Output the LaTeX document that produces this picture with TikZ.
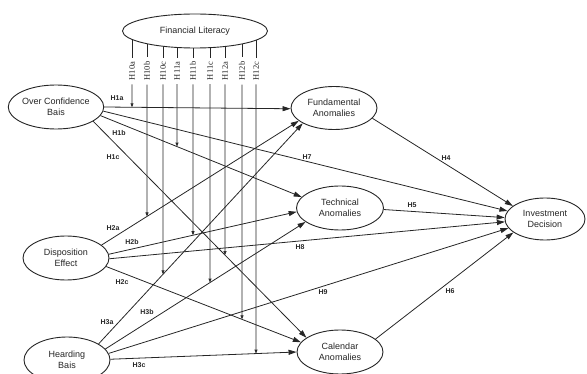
\documentclass[tikz,border=0pt]{standalone}
\usepackage{fontspec}
\setmainfont{Liberation Sans}
\newfontfamily\serifl{Liberation Serif}
\usetikzlibrary{shapes.geometric,arrows.meta,calc,backgrounds,intersections}
\definecolor{ink}{HTML}{262626}
\begin{document}
\begin{tikzpicture}[x=1pt,y=-1pt,
 ell/.style={draw=ink, ellipse, inner sep=0pt, align=center, text=ink,
   font=\fontsize{9}{10.5}\selectfont, line width=0.9pt, fill=white},
 arr/.style={draw=ink, -{Triangle[length=8pt,width=5pt]}, line width=0.8pt},
 modarr/.style={draw=ink, -{Triangle[length=4pt,width=3pt]}, line width=0.6pt},
 modline/.style={draw=ink, line width=0.6pt},
 hl/.style={font=\bfseries\fontsize{7}{7}\selectfont, inner sep=1pt, text=ink},
 vl/.style={rotate=90, font=\serifl\fontsize{8.5}{8.5}\selectfont, inner xsep=4pt, inner ysep=1pt, text=ink},
 ]
\useasboundingbox (0,0) rectangle (587,374);
\clip (0,0) rectangle (587,374);

% nodes
\node[ell, minimum width=145pt, minimum height=34pt] (fl) at (195,31) {Financial Literacy};
\node[ell, minimum width=84pt, minimum height=44pt] (oc) at (56,107) {Over Confidence\\Bais};
\node[ell, minimum width=86pt, minimum height=44pt] (de) at (66,258) {Disposition\\Effect};
\node[ell, minimum width=86pt, minimum height=46pt] (hb) at (67,360) {Hearding\\Bais};
\node[ell, minimum width=86pt, minimum height=43pt] (fa) at (334,108) {Fundamental\\Anomalies};
\node[ell, minimum width=87pt, minimum height=44pt] (ta) at (340,208) {Technical\\Anomalies};
\node[ell, minimum width=86pt, minimum height=44pt] (ca) at (340,352) {Calendar\\Anomalies};
\node[ell, minimum width=80pt, minimum height=42pt] (id) at (545,219) {Investment\\Decision};

% main connectors
\draw[arr, name path=pa] (oc.0) -- (fa.181);
\draw[arr, name path=pd] (oc.-11) -- (ta.164);
\draw[arr, name path=pg] (oc.-21) -- (ca.157);
\draw[arr] (oc.-5) -- (id.168);
\draw[arr, name path=pb] (de.20) -- (fa.200);
\draw[arr, name path=pe] (de.5) -- (ta.185);
\draw[arr, name path=ph] (de.-12) -- (ca.166);
\draw[arr] (de.-1) -- (id.184);
\draw[arr, name path=pc] (hb.27) -- (fa.206);
\draw[arr, name path=pf] (hb.16) -- (ta.202);
\draw[arr, name path=pi] (hb.1) -- (ca.180);
\draw[arr] (hb.9) -- (id.194);
\draw[arr] (fa.-15) -- (id.158);
\draw[arr] (ta.-2) -- (id.178);
\draw[arr] (ca.20) -- (id.203);

% path labels
\node[hl] (h1a) at (117,98) {H1a};
\node[hl] (h1b) at (119,133) {H1b};
\node[hl] (h1c) at (113,157) {H1c};
\node[hl] (h2a) at (113,228) {H2a};
\node[hl] (h2b) at (132,242) {H2b};
\node[hl] (h2c) at (122,282) {H2c};
\node[hl] (h3a) at (107,322) {H3a};
\node[hl] (h3b) at (147,312) {H3b};
\node[hl] (h3c) at (139,365) {H3c};
\node[hl] (h7) at (307,157) {H7};
\node[hl] (h4) at (446,158) {H4};
\node[hl] (h5) at (412,205) {H5};
\node[hl] (h8) at (300,247) {H8};
\node[hl] (h9) at (323,292) {H9};
\node[hl] (h6) at (450,291) {H6};

% moderation labels
\node[vl] (l1) at (132,71) {H10a};
\node[vl] (l2) at (147,71) {H10b};
\node[vl] (l3) at (163,71) {H10c};
\node[vl] (l4) at (177,71) {H11a};
\node[vl] (l5) at (193,71) {H11b};
\node[vl] (l6) at (210,71) {H11c};
\node[vl] (l7) at (225,71) {H12a};
\node[vl] (l8) at (242,71) {H12b};
\node[vl] (l9) at (256,71) {H12c};

% moderation targets on the paths
\path[name path=va] (132,60) -- (132,374);
\path[name path=vb] (147,60) -- (147,374);
\path[name path=vc] (163,60) -- (163,374);
\path[name path=vd] (177,60) -- (177,374);
\path[name path=ve] (193,60) -- (193,374);
\path[name path=vf] (210,60) -- (210,374);
\path[name path=vg] (225,60) -- (225,374);
\path[name path=vh] (242,60) -- (242,374);
\path[name path=vi] (256,60) -- (256,374);
\path[name intersections={of=pa and va, by=m1}];
\path[name intersections={of=pb and vb, by=m2}];
\path[name intersections={of=pc and vc, by=m3}];
\path[name intersections={of=pd and vd, by=m4}];
\path[name intersections={of=pe and ve, by=m5}];
\path[name intersections={of=pf and vf, by=m6}];
\path[name intersections={of=pg and vg, by=m7}];
\path[name intersections={of=ph and vh, by=m8}];
\path[name intersections={of=pi and vi, by=m9}];

\begin{scope}[on background layer]
\foreach \i in {1,...,9}{
  \draw[modline] (fl.center -| l\i) -- (l\i.east);
  \draw[modarr] (l\i.west) -- (m\i);
}
\end{scope}
\end{tikzpicture}
\end{document}
